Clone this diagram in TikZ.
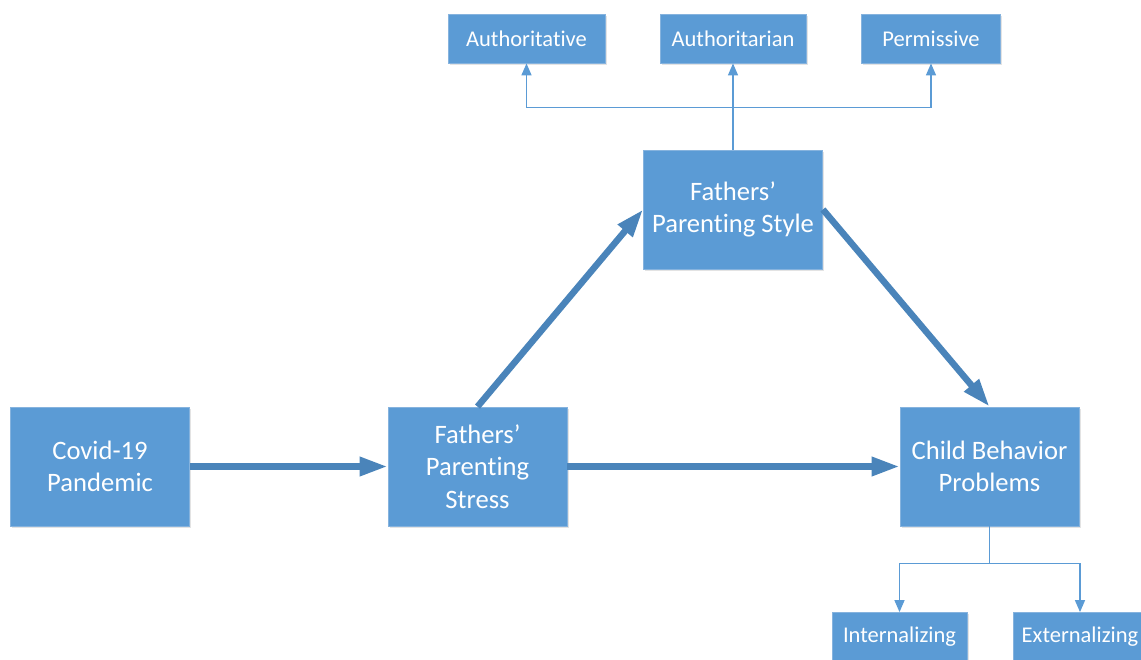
\documentclass[tikz,border=0pt]{standalone}
\usepackage{fontspec}
\setmainfont{Carlito}[Ligatures={NoCommon}]
\usetikzlibrary{arrows.meta,positioning,shadows}
\definecolor{boxblue}{HTML}{5B9BD5}
\definecolor{boxedge}{HTML}{86B3DE}
\definecolor{arrowblue}{HTML}{4A84BA}
\definecolor{thinblue}{HTML}{5B9BD5}
\begin{document}
\begin{tikzpicture}[x=1pt,y=-1pt,
  bigbox/.style={fill=boxblue,draw=boxedge,line width=0.8pt,text=white,align=center,
    minimum width=179pt,minimum height=119pt,inner sep=0pt,
    font=\fontsize{26.6}{32.5}\selectfont,
    drop shadow={shadow xshift=1.5pt,shadow yshift=-1.5pt,fill=black!18,opacity=0.6}},
  smallbox/.style={fill=boxblue,draw=boxedge,line width=0.8pt,text=white,align=center,
    minimum height=49pt,inner sep=0pt,font=\fontsize{22.5}{27}\selectfont,
    drop shadow={shadow xshift=1.5pt,shadow yshift=-1.5pt,fill=black!18,opacity=0.6}},
  bigarrow/.style={draw=arrowblue,line width=6.5pt,-{Triangle[length=28pt,width=18pt]}},
  thinarrow/.style={draw=thinblue,line width=1.4pt,-{Triangle[length=12pt,width=10pt]}}
]
\useasboundingbox (0,0) rectangle (1141,659);
\node[bigbox] (covid) at (100,466.5) {Covid-19\\Pandemic};
\node[bigbox] (stress) at (477.5,466.5) {Fathers’\\Parenting\\Stress};
\node[bigbox] (style) at (733,209.5) {Fathers’\\Parenting Style};
\node[bigbox] (child) at (989.5,466.5) {Child Behavior\\Problems};
\node[smallbox,minimum width=157pt] (auth1) at (526.5,38.5) {Authoritative};
\node[smallbox,minimum width=146pt] (auth2) at (733,38.5) {Authoritarian};
\node[smallbox,minimum width=139pt] (perm) at (931,38.5) {Permissive};
\node[smallbox,minimum width=135pt] (intern) at (899.5,637) {Internalizing};
\node[smallbox,minimum width=134pt] (extern) at (1080,637) {Externalizing};

\draw[bigarrow] (covid.east) -- (stress.west);
\draw[bigarrow] (stress.east) -- (child.west);
\draw[bigarrow] (stress.north) -- (style.west);
\draw[bigarrow] (style.east) -- (child.north);

\draw[thinarrow] (style.north) -- (auth2.south);
\draw[thinarrow] (style.north) -- ++(0,-42) -| (auth1.south);
\draw[thinarrow] (style.north) -- ++(0,-42) -| (perm.south);
\draw[thinarrow] (child.south) -- ++(0,37) -| (intern.north);
\draw[thinarrow] (child.south) -- ++(0,37) -| (extern.north);
\end{tikzpicture}
\end{document}
